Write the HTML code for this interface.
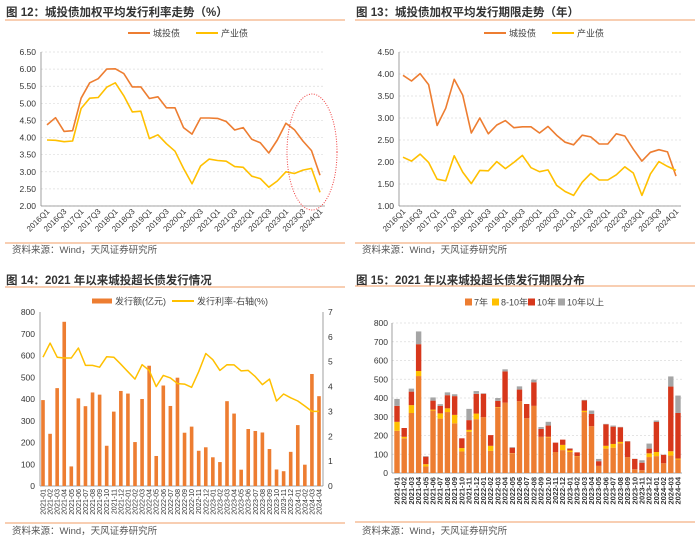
<!DOCTYPE html>
<html><head><meta charset="utf-8"><style>
html,body{margin:0;padding:0;background:#fff;}
svg{display:block;font-family:"Liberation Sans","Noto Sans CJK SC",sans-serif;}
</style></head><body>
<svg id="s" width="700" height="544" viewBox="0 0 700 544" xmlns="http://www.w3.org/2000/svg"></svg>
<script>
// ---------- data ----------
const quarters = [];
for (let y = 2016; y <= 2024; y++) for (let q = 1; q <= 4; q++) { if (y === 2024 && q > 1) break; quarters.push(y + 'Q' + q); }
const rateCT = [4.37,4.58,4.18,4.20,5.15,5.60,5.72,6.00,6.01,5.87,5.48,5.48,5.14,5.19,4.87,4.87,4.29,4.10,4.57,4.57,4.56,4.47,4.22,4.29,3.95,3.85,3.55,3.93,4.42,4.23,3.90,3.62,2.90];
const rateCY = [3.93,3.92,3.88,3.90,4.85,5.15,5.17,5.47,5.60,5.22,4.75,4.77,3.97,4.08,3.82,3.60,3.10,2.65,3.17,3.37,3.33,3.31,3.15,3.13,2.87,2.80,2.55,2.73,3.00,2.95,3.05,3.10,2.40];
const rateTicks = [2.00,2.50,3.00,3.50,4.00,4.50,5.00,5.50,6.00,6.50];
const termCT = [3.97,3.84,4.01,3.76,2.83,3.22,3.88,3.52,2.66,3.00,2.64,2.84,2.94,2.78,2.80,2.80,2.66,2.81,2.61,2.45,2.39,2.61,2.57,2.41,2.41,2.64,2.59,2.29,2.02,2.22,2.28,2.23,1.68];
const termCY = [2.11,2.02,2.18,1.99,1.61,1.57,2.14,1.77,1.51,1.81,1.80,2.01,1.85,1.99,2.15,1.87,1.78,1.82,1.47,1.33,1.24,1.54,1.74,1.59,1.59,1.71,1.89,1.75,1.24,1.73,2.01,1.90,1.81];
const termTicks = [1.00,1.50,2.00,2.50,3.00,3.50,4.00,4.50];
const months = [];
for (let y = 2021; y <= 2024; y++) for (let m = 1; m <= 12; m++) { if (y === 2024 && m > 4) break; months.push(y + '-' + String(m).padStart(2,'0')); }
const amt7 =   [225,185,320,517,35,333,290,325,265,115,220,287,298,118,350,375,103,383,292,358,193,190,112,122,112,88,325,250,38,130,135,158,85,20,15,85,90,52,93,72];
const amt810 = [48,8,42,27,12,5,28,20,45,18,10,30,0,27,2,0,2,0,0,0,0,3,0,28,8,2,7,0,0,15,20,8,0,0,0,20,22,0,23,5];
const amt10 =  [85,47,72,143,40,48,40,70,100,52,52,105,125,57,33,167,30,62,76,126,42,60,50,28,10,20,55,65,25,115,92,78,83,55,40,25,160,45,345,243];
const amt10p = [37,0,16,68,3,17,9,15,10,0,60,15,2,0,15,11,3,17,0,14,10,20,0,0,2,0,3,18,12,2,6,2,2,1,13,27,8,1,54,93];
const issueRate = [5.18,5.75,5.18,5.15,5.15,5.55,4.85,4.85,4.78,5.20,5.18,4.90,4.60,4.30,4.88,4.65,4.00,4.45,4.35,4.12,4.10,3.97,4.60,5.33,5.08,4.65,4.88,4.87,4.63,4.65,4.40,4.08,4.30,3.42,3.70,3.55,3.42,3.22,3.00,3.00];
const amtTicks = [0,100,200,300,400,500,600,700,800];
const rightTicks = [0,1,2,3,4,5,6,7];

const C_OR = '#ED7D31', C_YE = '#FFC000', C_RD = '#D7371B', C_GR = '#A5A5A5';
const svg = document.getElementById('s');
const NS = 'http://www.w3.org/2000/svg';
function mk(tag, attrs, parent, text) {
  const e = document.createElementNS(NS, tag);
  for (const k in attrs) e.setAttribute(k, attrs[k]);
  if (text !== undefined) e.textContent = text;
  (parent || svg).appendChild(e);
  return e;
}
function lin(d0, d1, r0, r1) { return v => r0 + (v - d0) / (d1 - d0) * (r1 - r0); }

function panelFrame(x0, title, titleY, lineY, srcLineY, srcY, name) {
  const g = mk('g', {});
  
  
  const t = mk('text', {x: x0 + 6, y: titleY, 'font-size': 11.5, 'font-weight': 'bold', fill: '#333'}, g, title);
  
  
  const l1 = mk('line', {x1: x0 + 5, x2: x0 + 345, y1: lineY, y2: lineY, stroke: '#F4B183', 'stroke-width': 1.2}, g);
  
  
  const l2 = mk('line', {x1: x0 + 5, x2: x0 + 345, y1: srcLineY, y2: srcLineY, stroke: '#F4B183', 'stroke-width': 1.2}, g);
  
  
  const s = mk('text', {x: x0 + 12, y: srcY, 'font-size': 9.5, fill: '#555'}, g, '资料来源：Wind，天风证券研究所');
  
  
  return g;
}

function legendLine(g, x, y, color, label) {
  const l = mk('line', {x1: x, x2: x + 22, y1: y, y2: y, stroke: color, 'stroke-width': 2}, g);
  
  
  const t = mk('text', {x: x + 25, y: y + 3.5, 'font-size': 9, fill: '#444'}, g, label);
  
  
}
function legendBox(g, x, y, color, label) {
  const r = mk('rect', {x: x, y: y - 3.5, width: 7, height: 7, fill: color}, g);
  
  
  const t = mk('text', {x: x + 9, y: y + 3.5, 'font-size': 9, fill: '#444'}, g, label);
  
  
}

function lineChart(cfg) {
  const g = panelFrame(cfg.x0, cfg.title, 16, 20, 243, 253, cfg.name);
  const yS = lin(cfg.ticks[0], cfg.ticks[cfg.ticks.length - 1], 206, 52);
  const n = cfg.cats.length;
  const xS = i => cfg.px0 + i * (cfg.px1 - cfg.px0) / (n - 1);
  cfg.ticks.forEach(v => {
    const y = yS(v);
    const gl = mk('line', {x1: cfg.ax, x2: cfg.ax + cfg.aw, y1: y, y2: y, stroke: '#dcdcdc', 'stroke-width': 0.7, 'stroke-dasharray': '2,2'}, g);
    
    
    const t = mk('text', {x: cfg.ax - 5, y: y + 3, 'font-size': 8.5, fill: '#333', 'text-anchor': 'end'}, g, v.toFixed(2));
    
    
  });
  const ya = mk('line', {x1: cfg.ax, x2: cfg.ax, y1: 52, y2: 206, stroke: '#888', 'stroke-width': 0.8}, g);
  
  
  const xa = mk('line', {x1: cfg.ax, x2: cfg.ax + cfg.aw, y1: 206, y2: 206, stroke: '#888', 'stroke-width': 0.8}, g);
  
  
  cfg.cats.forEach((c, i) => {
    if (i % 2) return;
    const x = xS(i);
    const t = mk('text', {x: x + 3, y: 212, 'font-size': 8, fill: '#333', 'text-anchor': 'end', transform: `rotate(-45 ${x + 3} 212)`}, g, c);
    
    
  });
  [[cfg.s1, C_OR, 'series-chengtou'], [cfg.s2, C_YE, 'series-chanye']].forEach(([d, col, nm]) => {
    const p = mk('polyline', {points: d.map((v, i) => xS(i).toFixed(1) + ',' + yS(v).toFixed(1)).join(' '), fill: 'none', stroke: col, 'stroke-width': 1.6, 'stroke-linejoin': 'round'}, g);
    
    
  });
  legendLine(g, cfg.x0 + cfg.legX, 33, C_OR, '城投债');
  legendLine(g, cfg.x0 + cfg.legX + 68, 33, C_YE, '产业债');
  return g;
}

lineChart({x0: 0, name: 'chart-12-rate', title: '图 12：城投债加权平均发行利率走势（%）', ticks: rateTicks, cats: quarters, s1: rateCT, s2: rateCY, ax: 41, aw: 284, px0: 47, px1: 320, legX: 128});
lineChart({x0: 350, name: 'chart-13-term', title: '图 13：城投债加权平均发行期限走势（年）', ticks: termTicks, cats: quarters, s1: termCT, s2: termCY, ax: 399, aw: 282, px0: 403, px1: 676, legX: 134});
const el = mk('ellipse', {cx: 312, cy: 152, rx: 25, ry: 58, fill: 'none', stroke: '#F04040', 'stroke-width': 1, 'stroke-dasharray': '1,1.5'});



// ---------- chart 14 ----------
(function () {
  const g = panelFrame(0, '图 14：2021 年以来城投超长债发行情况', 284, 287, 523, 534, 'chart-14-issuance');
  const yS = lin(0, 800, 486, 312), yR = lin(0, 7, 486, 312);
  const n = months.length, x0 = 43, x1 = 319;
  const xS = i => x0 + i * (x1 - x0) / (n - 1);
  amtTicks.forEach(v => {
    const t = mk('text', {x: 35, y: yS(v) + 3, 'font-size': 8.5, fill: '#333', 'text-anchor': 'end'}, g, v);
    
    
  });
  rightTicks.forEach(v => {
    const t = mk('text', {x: 328, y: yR(v) + 3, 'font-size': 8.5, fill: '#333'}, g, v);
    
    
  });
  const a1 = mk('line', {x1: 40, x2: 40, y1: 312, y2: 486, stroke: '#888', 'stroke-width': 0.8}, g);
  
  
  const a2 = mk('line', {x1: 323, x2: 323, y1: 312, y2: 486, stroke: '#888', 'stroke-width': 0.8}, g);
  
  
  const a3 = mk('line', {x1: 40, x2: 323, y1: 486, y2: 486, stroke: '#888', 'stroke-width': 0.8}, g);
  
  
  months.forEach((m, i) => {
    const tot = amt7[i] + amt810[i] + amt10[i] + amt10p[i];
    const b = mk('rect', {x: xS(i) - 1.8, y: yS(tot), width: 3.6, height: 486 - yS(tot), fill: C_OR}, g);
    
    
    const t = mk('text', {x: xS(i) + 2.5, y: 489, 'font-size': 7, fill: '#333', 'text-anchor': 'end', transform: `rotate(-90 ${xS(i) + 2.5} 489)`}, g, m);
    
    
  });
  const p = mk('polyline', {points: issueRate.map((v, i) => xS(i).toFixed(1) + ',' + yR(v).toFixed(1)).join(' '), fill: 'none', stroke: C_YE, 'stroke-width': 1.5, 'stroke-linejoin': 'round'}, g);
  
  
  const sw = mk('rect', {x: 92, y: 298.5, width: 20, height: 5, fill: C_OR}, g);
  
  
  const lt = mk('text', {x: 115, y: 304.5, 'font-size': 9, fill: '#444'}, g, '发行额(亿元)');
  
  
  legendLine(g, 172, 301, C_YE, '发行利率-右轴(%)');
})();

// ---------- chart 15 ----------
(function () {
  const g = panelFrame(350, '图 15：2021 年以来城投超长债发行期限分布', 284, 286, 522, 534, 'chart-15-term-distribution');
  const yS = lin(0, 800, 473, 323);
  const n = months.length, x0 = 397, x1 = 678;
  const xS = i => x0 + i * (x1 - x0) / (n - 1);
  amtTicks.forEach(v => {
    const y = yS(v);
    if (v > 0) {
      const gl = mk('line', {x1: 392, x2: 682, y1: y, y2: y, stroke: '#dcdcdc', 'stroke-width': 0.7, 'stroke-dasharray': '2,2'}, g);
      
      
    }
    const t = mk('text', {x: 388, y: y + 3, 'font-size': 8.5, fill: '#333', 'text-anchor': 'end'}, g, v);
    
    
  });
  const a1 = mk('line', {x1: 392, x2: 392, y1: 323, y2: 473, stroke: '#888', 'stroke-width': 0.8}, g);
  
  
  const a3 = mk('line', {x1: 392, x2: 682, y1: 473, y2: 473, stroke: '#888', 'stroke-width': 0.8}, g);
  
  
  const series = [[amt7, C_OR, '7y'], [amt810, C_YE, '8-10y'], [amt10, C_RD, '10y'], [amt10p, C_GR, '10y-plus']];
  months.forEach((m, i) => {
    let base = 0;
    series.forEach(([d, col, nm]) => {
      const v = d[i];
      if (v > 0) {
        const r = mk('rect', {x: xS(i) - 2.7, y: yS(base + v), width: 5.4, height: yS(base) - yS(base + v), fill: col}, g);
        
        
      }
      base += v;
    });
    const t = mk('text', {x: xS(i) + 2.5, y: 477, 'font-size': 7.5, 'font-weight': 'bold', fill: '#333', 'text-anchor': 'end', transform: `rotate(-90 ${xS(i) + 2.5} 477)`}, g, m);
    
    
  });
  legendBox(g, 465, 302, C_OR, '7年');
  legendBox(g, 492, 302, C_YE, '8-10年');
  legendBox(g, 528, 302, C_RD, '10年');
  legendBox(g, 558, 302, C_GR, '10年以上');
})();
</script>
</body></html>
